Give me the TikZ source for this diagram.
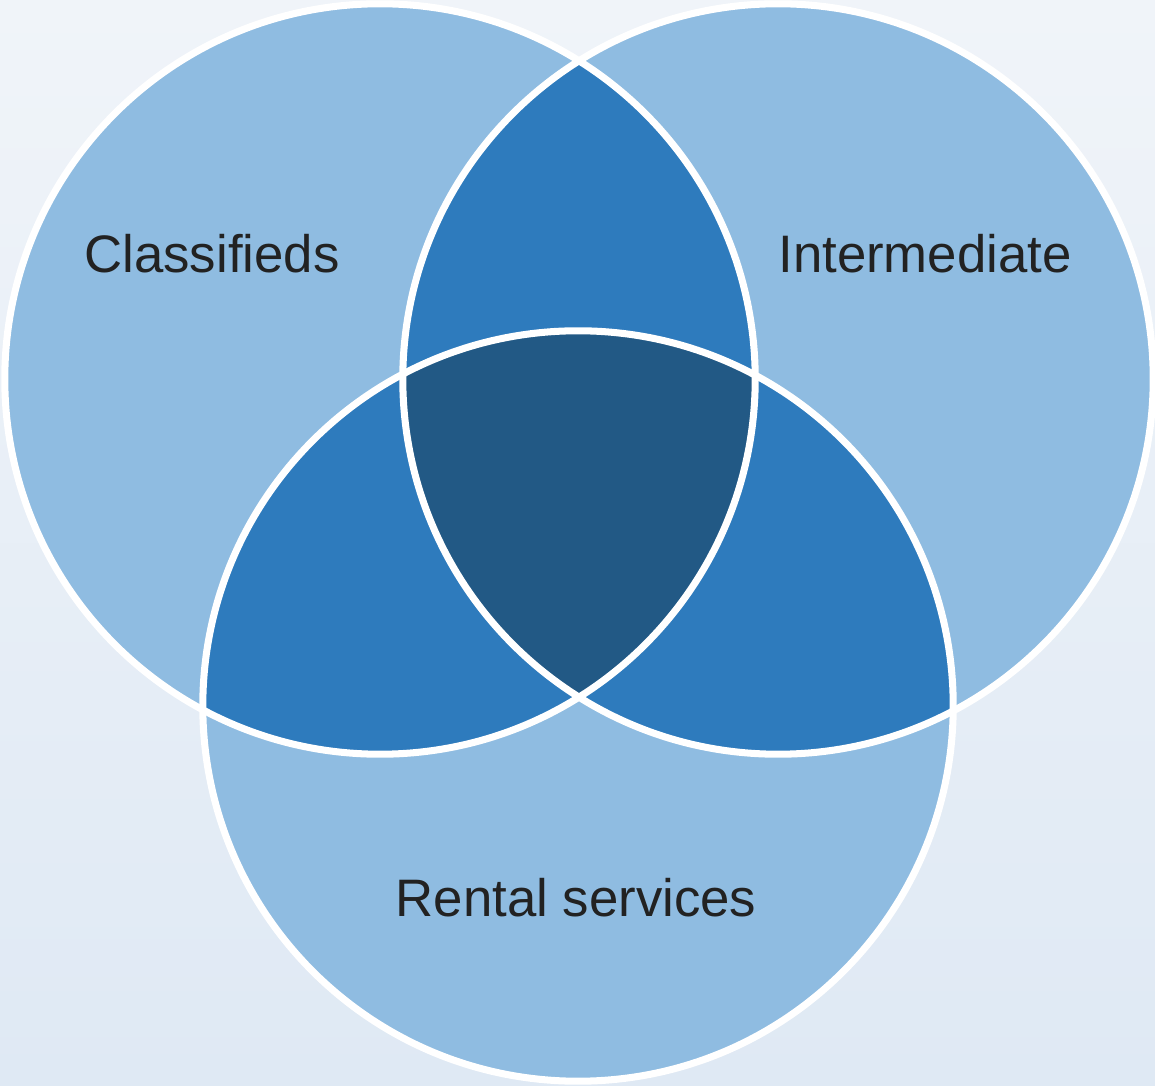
\documentclass[tikz,border=0pt]{standalone}
\usepackage{fontspec}
\setmainfont{Liberation Sans}
\usepackage{tikz}
\usetikzlibrary{positioning}

\definecolor{bgtop}{HTML}{F0F4F9}
\definecolor{bgbot}{HTML}{DFE9F4}
\definecolor{setlight}{HTML}{8FBCE1}
\definecolor{setmid}{HTML}{2E7BBD}
\definecolor{setdark}{HTML}{225985}
\definecolor{labeltext}{HTML}{222222}

\tikzset{
  setlabel/.style={text=labeltext, font=\fontsize{15}{18}\selectfont, inner sep=0pt},
  setedge/.style={draw=white, line width=2pt}
}

\begin{document}
\begin{tikzpicture}[x=0.01cm, y=-0.01cm]
  % Background
  \shade[top color=bgtop, bottom color=bgbot] (0,0) rectangle (1155,1086);
  \useasboundingbox (0,0) rectangle (1155,1086);

  % Circle centres
  \coordinate (cls) at (380,379);
  \coordinate (inter) at (778,379);
  \coordinate (rent) at (578,706);
  \def\rad{3.75cm}

  % Draw the three sets
  \fill[setlight] (cls) circle (\rad);
  \fill[setlight] (inter) circle (\rad);
  \fill[setlight] (rent) circle (\rad);

  % Pairwise overlaps
  \begin{scope}
    \clip (cls) circle (\rad);
    \fill[setmid] (inter) circle (\rad);
    \fill[setmid] (rent) circle (\rad);
  \end{scope}
  \begin{scope}
    \clip (inter) circle (\rad);
    \fill[setmid] (rent) circle (\rad);
  \end{scope}

  % Centre overlap
  \begin{scope}
    \clip (cls) circle (\rad);
    \clip (inter) circle (\rad);
    \fill[setdark] (rent) circle (\rad);
  \end{scope}

  % White outlines
  \draw[setedge] (cls) circle (\rad);
  \draw[setedge] (inter) circle (\rad);
  \draw[setedge] (rent) circle (\rad);

  % Labels
  \node[setlabel] (classified) at (212,254) {Classifieds};
  \node[setlabel] (intermed) at (925,254) {Intermediate};
  \node[setlabel] (rental) at (576,898) {Rental services};
\end{tikzpicture}
\end{document}
